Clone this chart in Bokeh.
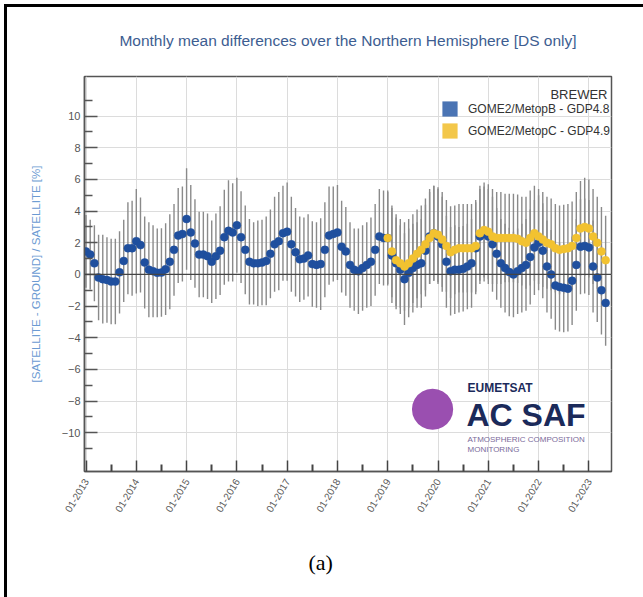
import math
from bokeh.plotting import figure
from bokeh.models import FixedTicker, Label, Legend, LegendItem, Span, Range1d, Title, InlineStyleSheet
from bokeh.embed import file_html
from bokeh.resources import INLINE

# ---------------- data ----------------
title_text = "Monthly mean differences over the Northern Hemisphere [DS only]"
y_label = "[SATELLITE - GROUND] / SATELLITE [%]"
legend_title = "BREWER"
series_names = ["GOME2/MetopB - GDP4.8", "GOME2/MetopC - GDP4.9"]
caption = "(a)"

metopb_start = (2013, 1)
metopb_mean = [
    1.45, 1.25, 0.7, -0.2, -0.3, -0.35, -0.45, -0.45, 0.13, 0.85, 1.65, 1.65,   # 2013
    2.1, 1.85, 0.75, 0.3, 0.2, 0.1, 0.12, 0.33, 0.8, 1.55, 2.45, 2.55,         # 2014
    3.5, 2.65, 1.95, 1.25, 1.25, 1.15, 0.8, 1.15, 1.5, 2.35, 2.75, 2.65,       # 2015
    3.1, 2.35, 1.55, 0.8, 0.7, 0.7, 0.75, 0.85, 1.3, 1.9, 2.1, 2.6,            # 2016
    2.7, 1.9, 1.4, 0.95, 1.0, 1.2, 0.65, 0.6, 0.65, 1.55, 2.45, 2.55,          # 2017
    2.65, 1.75, 1.45, 0.6, 0.3, 0.2, 0.4, 0.6, 0.8, 1.55, 2.4, 2.3,            # 2018
    2.3, 1.2, 0.7, 0.3, -0.3, 0.1, 0.4, 0.6, 0.7, 1.5, 2.4, 2.6,               # 2019
    2.4, 1.9, 0.8, 0.2, 0.3, 0.3, 0.35, 0.5, 0.7, 1.65, 2.4, 2.55,             # 2020
    2.4, 1.9, 1.3, 0.7, 0.4, 0.15, 0.0, 0.2, 0.4, 0.6, 1.1, 1.7,               # 2021
    2.0, 1.5, 0.5, 0.0, -0.7, -0.8, -0.85, -0.9, -0.4, 0.6, 1.75, 1.8,         # 2022
    1.7, 0.5, -0.2, -1.0, -1.8,                                                # 2023
]
metopb_std = [
    2.3, 2.2, 2.4, 2.7, 2.8, 2.7, 2.7, 2.7, 2.6, 2.6, 2.9, 3.0,
    3.3, 3.0, 2.9, 3.0, 2.9, 2.8, 2.8, 2.9, 3.0, 2.9, 3.0, 3.0,
    3.2, 3.0, 2.8, 2.7, 2.7, 2.7, 2.6, 2.7, 2.8, 3.0, 3.2, 3.1,
    3.0, 2.9, 2.8, 2.7, 2.6, 2.7, 2.7, 2.8, 2.8, 3.0, 3.1, 3.0,
    3.1, 3.0, 2.8, 2.7, 2.6, 2.6, 2.7, 2.7, 2.9, 3.0, 3.1, 3.0,
    3.0, 2.9, 2.8, 2.7, 2.6, 2.7, 2.7, 2.7, 2.8, 2.9, 3.0, 3.0,
    3.0, 3.0, 2.9, 2.8, 2.9, 2.8, 2.8, 2.7, 2.8, 2.9, 3.0, 3.0,
    3.0, 3.0, 2.9, 2.8, 2.8, 2.7, 2.7, 2.7, 2.8, 2.9, 3.0, 3.0,
    3.0, 3.0, 2.9, 2.8, 2.8, 2.8, 2.7, 2.7, 2.8, 2.9, 3.0, 3.0,
    3.0, 3.0, 2.9, 2.8, 2.8, 2.8, 2.8, 2.7, 2.8, 2.9, 3.0, 3.0,
    3.0, 2.9, 2.8, 2.8, 2.7,
]
metopc_start = (2019, 1)
metopc_mean = [
    2.3, 1.45, 0.9, 0.7, 0.5, 0.7, 1.0, 1.3, 1.55, 1.9, 2.3, 2.6,              # 2019
    2.5, 2.2, 1.8, 1.4, 1.55, 1.65, 1.65, 1.65, 1.65, 1.8, 2.6, 2.8,           # 2020
    2.7, 2.4, 2.3, 2.3, 2.3, 2.3, 2.3, 2.25, 2.1, 2.0, 2.3, 2.6,               # 2021
    2.4, 2.2, 2.0, 1.9, 1.65, 1.55, 1.6, 1.65, 1.8, 2.3, 2.9, 3.0,             # 2022
    2.9, 2.4, 2.0, 1.45, 0.9,                                                  # 2023
]
metopc_std = [
    2.9, 2.9, 2.9, 2.8, 2.8, 2.8, 2.8, 2.8, 2.8, 2.9, 2.9, 3.0,
    3.0, 3.0, 2.9, 2.9, 2.8, 2.8, 2.8, 2.8, 2.8, 2.9, 3.0, 3.0,
    3.0, 3.0, 2.9, 2.9, 2.8, 2.8, 2.8, 2.8, 2.8, 2.9, 3.0, 3.0,
    3.0, 3.0, 2.9, 2.9, 2.8, 2.8, 2.8, 2.8, 2.8, 2.9, 3.0, 3.1,
    3.1, 3.0, 2.9, 2.8, 2.8,
]
x_tick_years = list(range(2013, 2024))
x_tick_labels = ["01-%d" % y for y in x_tick_years]
y_major_ticks = [-10, -8, -6, -4, -2, 0, 2, 4, 6, 8, 10]
y_minor_ticks = [-11, -9, -7, -5, -3, -1, 1, 3, 5, 7, 9, 11]

# ---------------- helpers ----------------
def month_x(start, n):
    y0, m0 = start
    return [y0 + (m0 - 1 + i) / 12.0 for i in range(n)]

xb = month_x(metopb_start, len(metopb_mean))
xc = month_x(metopc_start, len(metopc_mean))

BLUE = "#1f4f9e"
BLUE_LEG = "#4a74b4"
YELLOW = "#f2c230"
YELLOW_LEG = "#f3c74a"
FONT = "Liberation Sans"

W, H = 643, 597
FL, FT, FR, FB = 84, 76, 611, 471   # frame edges in canvas pixels
p = figure(width=W, height=H, output_backend="svg", toolbar_location=None,
           x_range=Range1d(2012.97, 2023.45), y_range=Range1d(-12.45, 12.5),
           min_border_left=FL, min_border_right=W - FR, min_border_top=FT, min_border_bottom=H - FB)
p.background_fill_color = "white"
p.border_fill_color = "white"
p.outline_line_color = "#555555"
p.outline_line_width = 1.5
# left and top black page frame lines
p.stylesheets = [InlineStyleSheet(css=(
    ":host { position: relative; }"
    " :host::before { content: ''; position: absolute; left: 4px; top: 4px; width: 3px; bottom: 0;"
    " background: #000; z-index: 50; pointer-events: none; }"
    " :host::after { content: ''; position: absolute; left: 4px; top: 4px; height: 3px; right: 0;"
    " background: #000; z-index: 50; pointer-events: none; }"))]

p.title.text = title_text
p.title.align = "center"
p.title.text_font = FONT
p.title.text_font_size = "15.5px"
p.title.text_font_style = "normal"
p.title.text_color = "#3d5d91"
p.title.standoff = 55

# grid
p.xgrid.ticker = FixedTicker(ticks=x_tick_years)
p.ygrid.ticker = FixedTicker(ticks=y_major_ticks)
p.xgrid.grid_line_color = "#dcdcdc"
p.ygrid.grid_line_color = "#dcdcdc"

# axes
xa = p.xaxis[0]
xa.ticker = FixedTicker(ticks=x_tick_years, minor_ticks=[y + 0.5 for y in x_tick_years[:-1]] + [2012.5])
xa.major_label_overrides = {y: lab for y, lab in zip(x_tick_years, x_tick_labels)}
xa.major_label_orientation = 1.03
xa.major_tick_in = 11
xa.major_tick_out = 0
xa.minor_tick_in = 7
xa.minor_tick_out = 0
xa.major_tick_line_color = "#444444"
xa.minor_tick_line_color = "#444444"
xa.major_tick_line_width = 1.5
xa.minor_tick_line_width = 2
xa.axis_line_color = "#555555"
xa.axis_line_width = 1.5
xa.major_label_text_font = FONT
xa.major_label_text_font_size = "10px"
xa.major_label_text_color = "#5a5a5a"
xa.major_label_standoff = 8

ya = p.yaxis[0]
ya.ticker = FixedTicker(ticks=y_major_ticks, minor_ticks=y_minor_ticks)
ya.major_tick_in = 13
ya.major_tick_out = 0
ya.minor_tick_in = 8
ya.minor_tick_out = 0
ya.major_tick_line_color = "#555555"
ya.minor_tick_line_color = "#555555"
ya.major_tick_line_width = 1.5
ya.minor_tick_line_width = 1.5
ya.axis_line_color = "#555555"
ya.axis_line_width = 1.5
ya.major_label_text_font = FONT
ya.major_label_text_font_size = "11px"
ya.major_label_text_color = "#555555"
ya.major_label_standoff = 4
ya.axis_label = y_label
ya.axis_label_text_font = FONT
ya.axis_label_text_font_size = "11.5px"
ya.axis_label_text_font_style = "normal"
ya.axis_label_text_color = "#6b9ad2"
ya.axis_label_standoff = 17

# caption below the chart (an empty spacer panel first, then the caption)
spacer = Title(text=" ", text_font_size="1px", standoff=26)
p.add_layout(spacer, "below")
cap = Title(text=caption, align="left", offset=224, text_font="Liberation Serif",
            text_font_size="22px", text_font_style="normal", text_color="#000000", standoff=0)
p.add_layout(cap, "below")

# zero line
p.add_layout(Span(location=0, dimension="width", line_color="#444444", line_width=1.2))

# error bars
lo_b = [m - s for m, s in zip(metopb_mean, metopb_std)]
hi_b = [m + s for m, s in zip(metopb_mean, metopb_std)]
lo_c = [m - s for m, s in zip(metopc_mean, metopc_std)]
hi_c = [m + s for m, s in zip(metopc_mean, metopc_std)]
p.segment(x0=xb, y0=lo_b, x1=xb, y1=hi_b, line_color="#8a8a8a", line_width=1.4)
p.segment(x0=xc, y0=lo_c, x1=xc, y1=hi_c, line_color="#8a8a8a", line_width=1.4)

# points
p.scatter(x=xb, y=metopb_mean, size=8, fill_color=BLUE, line_color=BLUE, line_width=0.5)
p.scatter(x=xc, y=metopc_mean, size=8, fill_color=YELLOW, line_color=YELLOW, line_width=0.5)

# legend (square swatches; renderers hold no visible data)
nan = float("nan")
sw_b = p.quad(left=[nan], right=[nan], top=[nan], bottom=[nan], fill_color=BLUE_LEG, line_color=None)
sw_c = p.quad(left=[nan], right=[nan], top=[nan], bottom=[nan], fill_color=YELLOW_LEG, line_color=None)
legend = Legend(items=[LegendItem(label=series_names[0], renderers=[sw_b]),
                       LegendItem(label=series_names[1], renderers=[sw_c])],
                location=(356, 331), padding=0, spacing=3, glyph_width=19, glyph_height=19,
                label_standoff=9, label_text_font=FONT, label_text_font_size="12px",
                label_text_color="#333333", background_fill_alpha=0, border_line_color=None)
p.add_layout(legend)

FW = FR - FL
FH = FB - FT
p.add_layout(Label(x=FW - 4, y=FH - 18, x_units="screen", y_units="screen", text=legend_title,
                   text_align="right", text_baseline="middle", text_font=FONT,
                   text_font_size="13px", text_color="#333333"))

# EUMETSAT AC SAF logo (annotation texts)
p.add_layout(Label(x=348, y=67, x_units="screen", y_units="screen", text="●",
                   text_align="center", text_baseline="middle", text_font="DejaVu Sans",
                   text_font_size="54px", text_color="#9a4fb0"))
p.add_layout(Label(x=383, y=84, x_units="screen", y_units="screen", text="EUMETSAT",
                   text_align="left", text_baseline="middle", text_font=FONT,
                   text_font_size="12px", text_font_style="bold", text_color="#1b2a5a"))
p.add_layout(Label(x=382, y=57, x_units="screen", y_units="screen", text="AC SAF",
                   text_align="left", text_baseline="middle", text_font=FONT,
                   text_font_size="32px", text_font_style="bold", text_color="#1b2a5a"))
p.add_layout(Label(x=383, y=32, x_units="screen", y_units="screen",
                   text="ATMOSPHERIC COMPOSITION", text_align="left", text_baseline="middle",
                   text_font=FONT, text_font_size="8px", text_color="#7a6a9a"))
p.add_layout(Label(x=383, y=22, x_units="screen", y_units="screen",
                   text="MONITORING", text_align="left", text_baseline="middle",
                   text_font=FONT, text_font_size="8px", text_color="#7a6a9a"))

open("out.html", "w").write(file_html(p, INLINE))
